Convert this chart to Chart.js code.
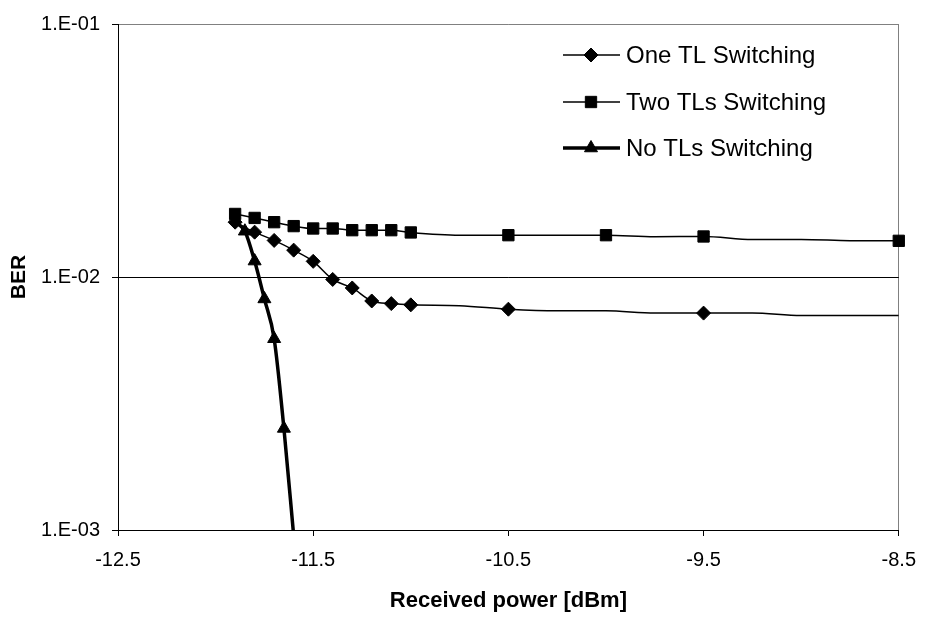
<!DOCTYPE html>
<html>
<head>
<meta charset="utf-8">
<script src="https://cdn.jsdelivr.net/npm/chart.js@4.4.1/dist/chart.umd.min.js"></script>
<style>
    html, body { margin: 0; padding: 0; background: #fff; }
    #wrap { width: 928px; height: 617px; }
</style>
</head>
<body>
<div id="wrap"><canvas id="berChart"></canvas></div>
<script>
// Received power [dBm] and BER for each curve (1 = point has a marker)
const oneTlPower = [-11.9, -11.8, -11.7, -11.6, -11.5, -11.4, -11.3, -11.2, -11.1, -11.0, -10.75, -10.5, -10.25, -10.0, -9.75, -9.5, -9.25, -9.0, -8.75, -8.5];
const oneTlBer = [0.01647, 0.01504, 0.01395, 0.01277, 0.01153, 0.00978, 0.00905, 0.00804, 0.00785, 0.00776, 0.0077, 0.00746, 0.00735, 0.00735, 0.0072, 0.0072, 0.0072, 0.00704, 0.00704, 0.00704];
const oneTlMarked = [1, 1, 1, 1, 1, 1, 1, 1, 1, 1, 0, 1, 0, 0, 0, 1, 0, 0, 0, 0];

const twoTlPower = [-11.9, -11.8, -11.7, -11.6, -11.5, -11.4, -11.3, -11.2, -11.1, -11.0, -10.75, -10.5, -10.25, -10.0, -9.75, -9.5, -9.25, -9.0, -8.75, -8.5];
const twoTlBer = [0.01775, 0.01712, 0.01647, 0.01589, 0.01555, 0.01555, 0.01531, 0.01531, 0.01531, 0.0150, 0.01463, 0.01463, 0.01463, 0.01463, 0.01444, 0.01446, 0.01407, 0.01407, 0.01392, 0.0139];
const twoTlMarked = [1, 1, 1, 1, 1, 1, 1, 1, 1, 1, 0, 1, 0, 1, 0, 1, 0, 0, 0, 1];

const noTlPower = [-11.9, -11.85, -11.8, -11.75, -11.7, -11.65, -11.6];
const noTlBer = [0.0165, 0.01517, 0.01156, 0.00819, 0.0057, 0.00252, 0.00095];
const noTlMarked = [0, 1, 1, 1, 1, 1, 0];

const seriesNames = ['One TL Switching', 'Two TLs Switching', 'No TLs Switching'];
const xTicks = [-12.5, -11.5, -10.5, -9.5, -8.5];
const yTicks = [0.001, 0.01, 0.1];

const fontFamily = "'Liberation Sans', Arial, sans-serif";

function toPoints(xs, ys) {
    return xs.map((x, i) => ({ x: x, y: ys[i] }));
}

// 1.E-02 style labels
function formatBer(v) {
    const e = Math.round(Math.log10(v));
    return '1.E' + (e < 0 ? '-' : '+') + String(Math.abs(e)).padStart(2, '0');
}

// legend drawn inside the plot, top right
const insideLegend = {
    id: 'insideLegend',
    afterDatasetsDraw(chart) {
        const ctx = chart.ctx;
        const rowY = [55, 102, 148];
        ctx.save();
        chart.data.datasets.forEach((ds, i) => {
            const y = rowY[i];
            ctx.strokeStyle = '#000';
            ctx.fillStyle = '#000';
            ctx.lineWidth = ds.borderWidth;
            ctx.beginPath();
            ctx.moveTo(563, y);
            ctx.lineTo(620, y);
            ctx.stroke();
            ctx.lineWidth = 1;
            Chart.helpers.drawPoint(ctx, {
                pointStyle: ds.pointStyle,
                radius: ds.legendRadius,
                rotation: 0,
                borderWidth: 1
            }, 591, y);
            ctx.font = '24px ' + fontFamily;
            ctx.textAlign = 'left';
            ctx.textBaseline = 'middle';
            ctx.fillText(ds.label, 626, y + 1);
        });
        ctx.restore();
    }
};

const ctx = document.getElementById('berChart').getContext('2d');
new Chart(ctx, {
    type: 'line',
    data: {
        datasets: [{
            label: seriesNames[0],
            data: toPoints(oneTlPower, oneTlBer),
            borderColor: '#000',
            backgroundColor: '#000',
            borderWidth: 1.5,
            pointStyle: 'rectRot',
            pointRadius: oneTlMarked.map(m => m ? 7 : 0),
            pointBorderWidth: 1,
            legendRadius: 7
        }, {
            label: seriesNames[1],
            data: toPoints(twoTlPower, twoTlBer),
            borderColor: '#000',
            backgroundColor: '#000',
            borderWidth: 1.5,
            pointStyle: 'rect',
            pointRadius: twoTlMarked.map(m => m ? 8 : 0),
            pointBorderWidth: 1,
            clip: false,
            legendRadius: 8
        }, {
            label: seriesNames[2],
            data: toPoints(noTlPower, noTlBer),
            borderColor: '#000',
            backgroundColor: '#000',
            borderWidth: 3.5,
            pointStyle: 'triangle',
            pointRadius: noTlMarked.map(m => m ? 7.5 : 0),
            pointBorderWidth: 1,
            legendRadius: 7.5
        }]
    },
    options: {
        responsive: true,
        maintainAspectRatio: false,
        animation: false,
        cubicInterpolationMode: 'monotone',
        layout: {
            autoPadding: false,
            padding: { top: 22, right: 25, left: 0, bottom: 0 }
        },
        scales: {
            x: {
                type: 'linear',
                min: -12.5,
                max: -8.5,
                afterBuildTicks: axis => { axis.ticks = xTicks.map(v => ({ value: v })); },
                afterFit: axis => { axis.height = 87; },
                ticks: {
                    callback: v => v.toFixed(1),
                    color: '#000',
                    font: { size: 20, family: fontFamily },
                    padding: 12,
                    maxRotation: 0
                },
                grid: {
                    color: c => (c.tick && c.tick.value === -8.5) ? '#808080' : 'rgba(0,0,0,0)',
                    tickColor: '#000',
                    tickLength: 6,
                    lineWidth: 1
                },
                border: { color: '#000', width: 1 },
                title: {
                    display: true,
                    text: 'Received power [dBm]',
                    color: '#000',
                    font: { size: 22, weight: 'bold', family: fontFamily },
                    padding: { top: 0, bottom: 3 }
                }
            },
            y: {
                type: 'logarithmic',
                min: 0.001,
                max: 0.1,
                afterBuildTicks: axis => { axis.ticks = yTicks.map(v => ({ value: v })); },
                afterFit: axis => { axis.width = 118; },
                ticks: {
                    callback: v => formatBer(v),
                    color: '#000',
                    font: { size: 20, family: fontFamily },
                    padding: 12
                },
                grid: {
                    color: c => {
                        if (!c.tick) return 'rgba(0,0,0,0)';
                        if (c.tick.value === 0.1) return '#808080';
                        if (c.tick.value === 0.01) return '#000';
                        return 'rgba(0,0,0,0)';
                    },
                    tickColor: '#000',
                    tickLength: 6,
                    lineWidth: 1
                },
                border: { color: '#000', width: 1 },
                title: {
                    display: true,
                    text: 'BER',
                    color: '#000',
                    font: { size: 21, weight: 'bold', family: fontFamily },
                    padding: { top: 7, bottom: 0 }
                }
            }
        },
        plugins: {
            legend: { display: false },
            tooltip: { enabled: false }
        }
    },
    plugins: [insideLegend]
});
</script>
</body>
</html>
